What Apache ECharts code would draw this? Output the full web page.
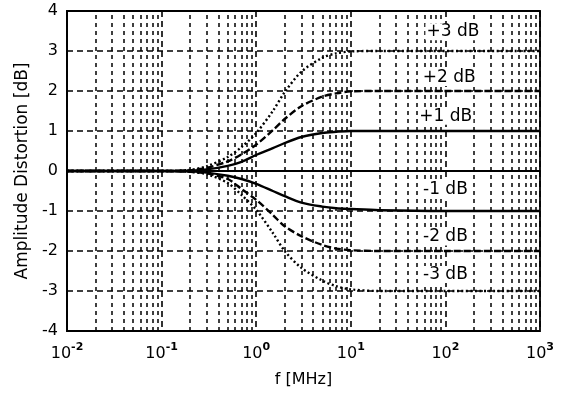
<!DOCTYPE html>
<html>
<head>
<meta charset="utf-8">
<script src="https://cdn.jsdelivr.net/npm/echarts@6/dist/echarts.min.js"></script>
<style>html,body{margin:0;padding:0;background:#fff;}#c{width:561px;height:393px;}</style>
</head>
<body>
<div id="c"></div>
<script>
// Frequencies in MHz
const freq   = [0.01, 0.1, 0.2, 0.3, 0.5, 0.7, 1, 1.5, 2, 3, 5, 7, 10, 20, 100, 1000];
const plus3  = [0, 0, 0.03, 0.12, 0.35, 0.6, 0.95, 1.5, 1.97, 2.48, 2.83, 2.94, 2.99, 3, 3, 3];
const plus2  = [0, 0, 0.02, 0.08, 0.24, 0.42, 0.66, 1.02, 1.3, 1.62, 1.86, 1.94, 1.99, 2, 2, 2];
const plus1  = [0, 0, 0.01, 0.04, 0.13, 0.23, 0.4, 0.57, 0.7, 0.85, 0.95, 0.98, 1, 1, 1, 1];
const minus1 = [0, 0, -0.01, -0.04, -0.12, -0.2, -0.32, -0.5, -0.63, -0.79, -0.89, -0.93, -0.95, -0.98, -1, -1];
const minus2 = [0, 0, -0.02, -0.06, -0.2, -0.45, -0.72, -1.1, -1.38, -1.63, -1.85, -1.94, -1.98, -2, -2, -2];
const minus3 = [0, 0, -0.02, -0.08, -0.3, -0.6, -0.97, -1.55, -2.0, -2.42, -2.74, -2.88, -2.96, -3, -3, -3];
const seriesNames = ['+3 dB', '+2 dB', '+1 dB', '-1 dB', '-2 dB', '-3 dB'];
const yTicks = [-4, -3, -2, -1, 0, 1, 2, 3, 4];

const FONT = 'DejaVu Sans';
const pair = arr => freq.map((f, i) => [f, arr[i]]);

// minor log grid positions (2..9 per decade)
const minorX = [];
for (let e = -2; e < 3; e++) for (let k = 2; k <= 9; k++) minorX.push({xAxis: k * Math.pow(10, e)});

const gridStyle = {color: '#000', width: 1.6, type: [6, 4]};

function curve(name, arr, type) {
  return {
    name: name, type: 'line', data: pair(arr), showSymbol: false, smooth: 0.3,
    lineStyle: {color: '#000', width: 2.4, type: type},
    z: 5
  };
}

const labelPos = [[120, 3.48], [110, 2.34], [101, 1.37], [100, -0.46], [100, -1.65], [100, -2.59]];

const chart = echarts.init(document.getElementById('c'));
chart.setOption({
  backgroundColor: '#fff',
  animation: false,
  textStyle: {fontFamily: FONT},
  grid: {left: 67, right: 21, top: 11, bottom: 59, show: true, borderColor: '#000', borderWidth: 1.8, backgroundColor: '#fff'},
  xAxis: {
    type: 'log', logBase: 10, min: 0.01, max: 1000,
    name: 'f [MHz]', nameLocation: 'middle', nameGap: 41,
    nameTextStyle: {fontFamily: FONT, fontSize: 16, color: '#000'},
    axisLine: {show: true, lineStyle: {color: '#000', width: 1.8}},
    axisTick: {show: false},
    axisLabel: {
      margin: 11,
      formatter: v => '{b|10}{s|' + Math.round(Math.log10(v)) + '}',
      rich: {
        b: {fontFamily: FONT, fontSize: 16, color: '#000', verticalAlign: 'bottom'},
        s: {fontFamily: FONT, fontSize: 11, color: '#000', fontWeight: 'bold', verticalAlign: 'top', padding: [0, 0, 9, 0]}
      }
    },
    splitLine: {show: true, lineStyle: gridStyle}
  },
  yAxis: {
    type: 'value', min: -4, max: 4, interval: 1,
    name: 'Amplitude Distortion [dB]', nameLocation: 'middle', nameGap: 34,
    nameTextStyle: {fontFamily: FONT, fontSize: 17, color: '#000'},
    axisLine: {show: true, lineStyle: {color: '#000', width: 1.8}},
    axisTick: {show: false},
    axisLabel: {fontFamily: FONT, fontSize: 16, color: '#000', margin: 9,
      formatter: v => yTicks.includes(v) ? String(v) : ''},
    splitLine: {show: true, lineStyle: gridStyle}
  },
  series: [
    {
      type: 'line', data: [], silent: true,
      markLine: {
        silent: true, symbol: 'none', label: {show: false},
        lineStyle: {color: '#000', width: 1.5, type: [4, 4]},
        data: minorX
      }
    },
    curve(seriesNames[0], plus3, [2, 2.5]),
    curve(seriesNames[1], plus2, [7, 3]),
    curve(seriesNames[2], plus1, 'solid'),
    curve(seriesNames[3], minus1, 'solid'),
    curve(seriesNames[4], minus2, [7, 3]),
    curve(seriesNames[5], minus3, [2, 2.5]),
    {
      type: 'scatter', symbolSize: 0, silent: true, z: 10,
      itemStyle: {color: '#000', opacity: 1},
      data: labelPos.map((p, i) => ({value: p, name: seriesNames[i]})),
      label: {show: true, position: 'inside', formatter: p => p.name, color: '#000', opacity: 1,
        textBorderWidth: 0, textBorderColor: 'transparent',
        fontFamily: FONT, fontSize: 17, backgroundColor: '#fff', padding: [0, 1]}
    }
  ]
});
</script>
</body>
</html>
